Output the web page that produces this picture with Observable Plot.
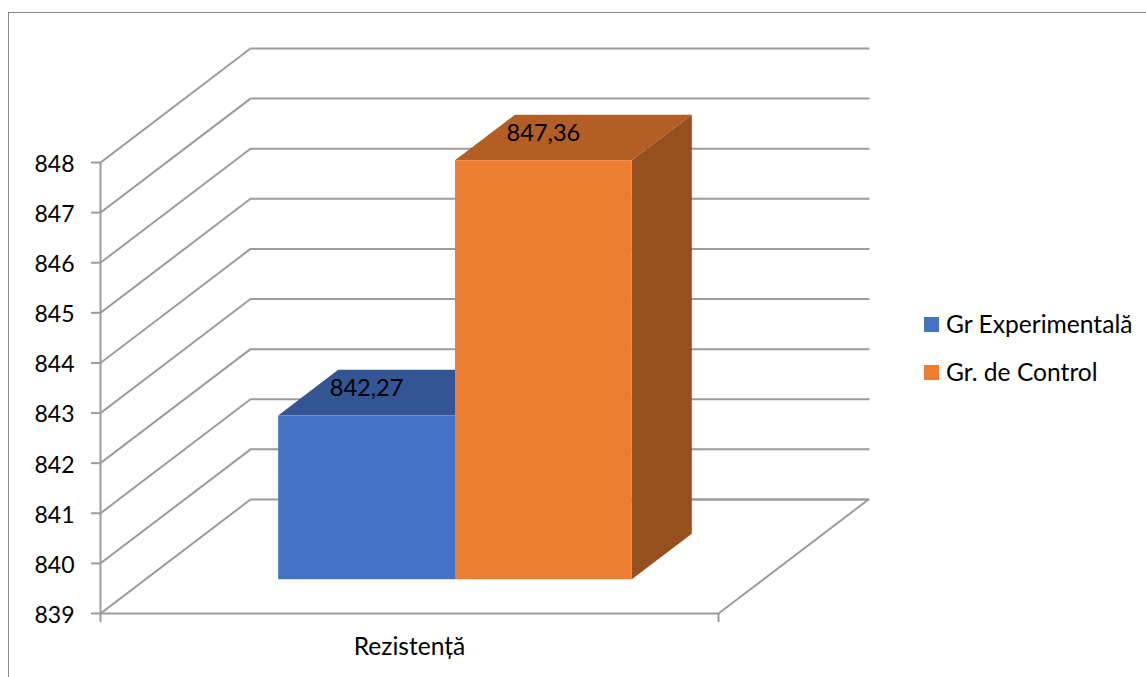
<!DOCTYPE html>
<html lang="ro">
<head>
<meta charset="utf-8">
<title>Rezistență</title>
<script src="https://cdn.jsdelivr.net/npm/d3@7"></script>
<script src="https://cdn.jsdelivr.net/npm/@observablehq/plot@0.6"></script>
<style>
  html, body { margin: 0; background: #fff; }
  #chart { position: relative; width: 1146px; height: 677px; overflow: hidden;
           font-family: Lato, "Noto Sans", sans-serif; color: #000; }
  #chart svg { display: block; position: absolute; left: 0; top: 0; }
  #frame { position: absolute; left: 8px; top: 12px; right: -4px; bottom: -4px;
           border-left: 1px solid #8c8c8c; border-top: 1px solid #8c8c8c; }
  #legend { position: absolute; left: 924px; top: 300px; font-size: 24.6px; line-height: 48px; }
  #legend div { display: flex; align-items: center; white-space: nowrap; }
  #legend i { display: block; width: 15px; height: 15px; margin-right: 7px; }
</style>
</head>
<body>
<div id="chart"><div id="frame"></div></div>
<script>
// Chart values
const seriesNames = ["Gr Experimentală", "Gr. de Control"];
const seriesValues = [842.27, 847.36];
const categoryLabel = "Rezistență";
const valueTicks = [839, 840, 841, 842, 843, 844, 845, 846, 847, 848];

// Face colours per series
const frontColors = ["#4472C4", "#ED7D31"];
const topColors = ["#335593", "#B25E25"];
const sideColors = ["#264370", "#964F1F"];
const gridColor = "#9c9c9c";
const textFont = "Lato, 'Noto Sans', sans-serif";

// Oblique projection: one full unit of depth, expressed in scale units
const depthX = 150 / 618;
const depthY = 114 / 50.1;
const project = (x, value, depth) => ({x: x + depth * depthX, y: value + depth * depthY});

// Column placement on the floor of the box
const baseValue = valueTicks[0];
const barStart = 0.2147;
const barWidth = 0.2861;
const depthFront = 0.3;
const depthBack = 0.7;

// One polyline or polygon from [x, value, depth] corners
const path = (corners) => corners.map(([x, v, d]) => project(x, v, d));

// Gridlines run along the left wall and then across the back wall
const gridMarks = valueTicks.map((v) =>
  Plot.line(path([[0, v, 0], [0, v, 1], [1, v, 1]]), {
    x: "x", y: "y", stroke: gridColor, strokeWidth: 2, strokeLinejoin: "miter", strokeLinecap: "square"
  })
);

const floorMark = Plot.line(
  path([[0, baseValue, 0], [1, baseValue, 0], [1, baseValue, 1], [0.5, baseValue, 1]]),
  {x: "x", y: "y", stroke: gridColor, strokeWidth: 2, strokeLinejoin: "miter"}
);

const face = (corners, fill) =>
  Plot.line(path([...corners, corners[0]]), {x: "x", y: "y", fill, stroke: "none"});

// Each column: top, right side and front, the later series overlapping the earlier one
const barMarks = seriesValues.flatMap((value, i) => {
  const x0 = barStart + i * barWidth;
  const x1 = x0 + barWidth;
  return [
    face([[x0, value, depthFront], [x1, value, depthFront], [x1, value, depthBack], [x0, value, depthBack]], topColors[i]),
    face([[x1, baseValue, depthFront], [x1, baseValue, depthBack], [x1, value, depthBack], [x1, value, depthFront]], sideColors[i]),
    face([[x0, baseValue, depthFront], [x1, baseValue, depthFront], [x1, value, depthFront], [x0, value, depthFront]], frontColors[i])
  ];
});

// Value labels sit on the top face, centred over the front edge
const labelRows = seriesValues.map((value, i) => ({
  x: project(barStart + (i + 0.5) * barWidth, value, depthFront).x,
  y: project(0, value, (depthFront + depthBack) / 2).y,
  text: value.toFixed(2).replace(".", ",")
}));

const plot = Plot.plot({
  width: 1146,
  height: 677,
  marginLeft: 100,
  marginRight: 428,
  marginTop: 162,
  marginBottom: 64,
  style: {background: "transparent", overflow: "visible", color: "#000"},
  x: {domain: [0, 1]},
  y: {domain: [839, 848]},
  marks: [
    ...gridMarks,
    floorMark,
    ...barMarks,
    Plot.ruleX([0], {y1: baseValue, y2: 848, stroke: gridColor, strokeWidth: 2}),
    Plot.axisY({
      ticks: valueTicks, tickSize: 9, tickFormat: () => "",
      stroke: gridColor, strokeWidth: 2, strokeOpacity: 1, label: null
    }),
    Plot.axisY({
      ticks: valueTicks, tickSize: 0, tickPadding: 26, tickFormat: (d) => String(d), dy: 2,
      fontSize: 23, fontFamily: textFont, fill: "#000", label: null
    }),
    Plot.axisX({
      ticks: [0, 1], tickSize: 9, tickFormat: () => "",
      stroke: gridColor, strokeWidth: 2, strokeOpacity: 1, label: null
    }),
    Plot.text(labelRows, {
      x: "x", y: "y", text: "text", dy: -4, fontSize: 23.6, fontFamily: textFont,
      fill: "#000", lineAnchor: "middle"
    }),
    Plot.text([categoryLabel], {
      x: [0.5], y: [baseValue], dy: 34, fontSize: 24.6, fontFamily: textFont,
      fill: "#000", lineAnchor: "middle"
    })
  ]
});

const chart = document.getElementById("chart");
chart.appendChild(plot);

// Legend to the right of the plot
const legend = document.createElement("div");
legend.id = "legend";
seriesNames.forEach((name, i) => {
  const row = document.createElement("div");
  const swatch = document.createElement("i");
  swatch.style.background = frontColors[i];
  row.append(swatch, document.createTextNode(name));
  legend.appendChild(row);
});
chart.appendChild(legend);
</script>
</body>
</html>
